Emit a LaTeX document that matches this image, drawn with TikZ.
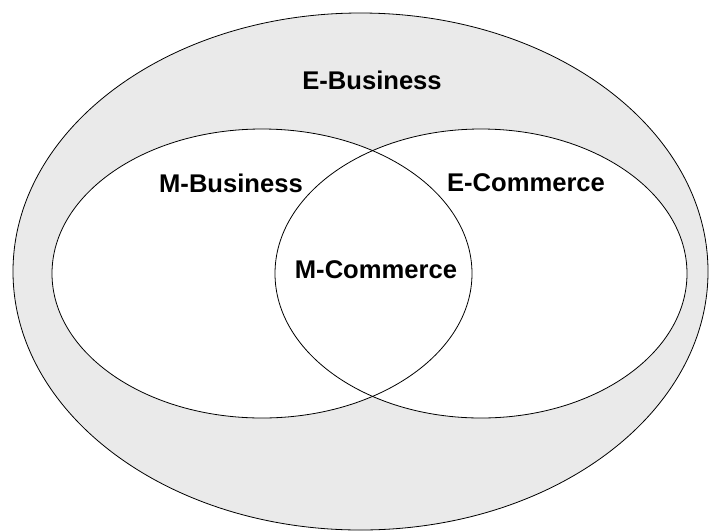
\documentclass[tikz,border=0pt]{standalone}
\usepackage{fontspec}
\setmainfont{Liberation Sans}
\begin{document}
\begin{tikzpicture}[x=1pt,y=-1pt,
  ring/.style={draw=black,line width=0.8pt},
  lbl/.style={font=\bfseries\fontsize{25.6}{30}\selectfont,inner sep=0pt}]
\useasboundingbox (0,0) rectangle (709,531);
\path[ring,fill={rgb,255:red,234;green,234;blue,234}] (360.5,271.5) ellipse [x radius=347.5pt, y radius=258.5pt];
\fill[white] (262,273.5) ellipse [x radius=210pt, y radius=144.5pt];
\fill[white] (481,273.5) ellipse [x radius=206pt, y radius=144.5pt];
\draw[ring] (262,273.5) ellipse [x radius=210pt, y radius=144.5pt];
\draw[ring] (481,273.5) ellipse [x radius=206pt, y radius=144.5pt];
\node[lbl] (eb) at (372,80) {E-Business};
\node[lbl] (mb) at (231,183) {M-Business};
\node[lbl] (ec) at (526,183) {E-Commerce};
\node[lbl] (mc) at (376,270) {M-Commerce};
\end{tikzpicture}
\end{document}
